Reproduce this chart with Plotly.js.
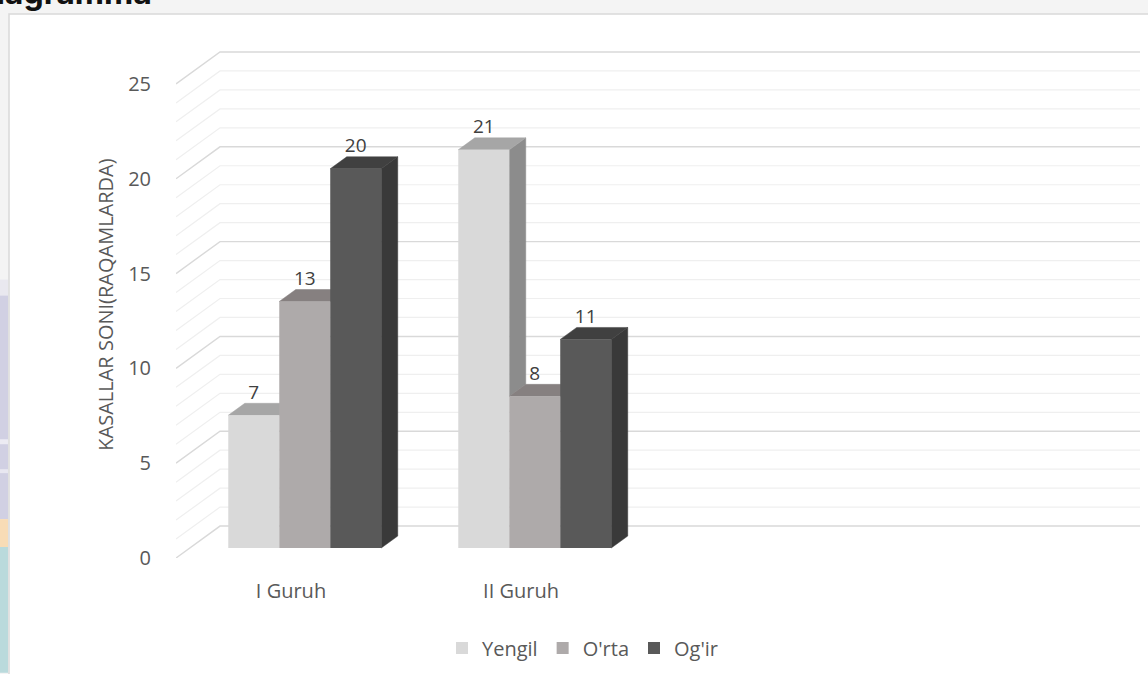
<!DOCTYPE html>
<html>
<head>
<meta charset="utf-8">
<script src="https://cdn.plot.ly/plotly-3.0.1.min.js"></script>
<style>
html,body{margin:0;padding:0;background:#f4f4f4;}
#chart{width:1148px;height:674px;}
</style>
</head>
<body>
<div id="chart"></div>
<script>
// ---- data ----
const categories = ["I Guruh", "II Guruh"];
const seriesNames = ["Yengil", "O'rta", "Og'ir"];
const yengil = [7, 21];
const orta = [13, 8];
const ogir = [20, 11];
const yTickVals = [0, 5, 10, 15, 20, 25];
const gridVals = [0,1,2,3,4,5,6,7,8,9,10,11,12,13,14,15,16,17,18,19,20,21,22,23,24,25];
const axisTitle = "KASALLAR SONI(RAQAMLARDA)";
const pageTitle = "diagramma";

// ---- styling / geometry constants ----
const frontColors = ["#d9d9d9", "#aeaaaa", "#595959"];
const topColors   = ["#a6a6a6", "#868080", "#404040"];
const sideColors  = ["#8c8c8c", "#7a7575", "#393939"];

const W = 1148, H = 674;
const M = {l: 176, r: 8, t: 51, b: 115};
const plotW = W - M.l - M.r, plotH = H - M.t - M.b;
const pxPerCat = 230, pxPerUnit = 19;
const xRange = [-0.5, -0.5 + plotW / pxPerCat];
const yRange = [0, plotH / pxPerUnit];
const DX = 44 / pxPerCat, DY = 32 / pxPerUnit;   // full depth of the 3D box
const frontFrac = 0.3125, depthFrac = 0.375;      // bar position inside the depth
const ddx = depthFrac * DX, ddy = depthFrac * DY;
const x2Range = xRange.map(v => v - frontFrac * DX);
const y2Range = yRange.map(v => v - frontFrac * DY);
const bargap = 0.335;
const groupW = 1 - bargap;
const series = [yengil, orta, ogir];
const barW = groupW / series.length;
const catPos = categories.map((c, i) => i);

const font = "Open Sans, Noto Sans, sans-serif";
const traces = [];

// ---- back wall + side wall gridlines (main axes) ----
function gridTrace(vals, color, width) {
  const xs = [], ys = [];
  vals.forEach(v => {
    xs.push(xRange[0], xRange[0] + DX, xRange[1], null);
    ys.push(v, v + DY, v + DY, null);
  });
  return {type: "scatter", mode: "lines", x: xs, y: ys, xaxis: "x", yaxis: "y",
          line: {color: color, width: width}, hoverinfo: "skip", showlegend: false};
}
traces.push(gridTrace(gridVals.filter(v => v % 5 !== 0), "#efefef", 1.2));
traces.push(gridTrace(gridVals.filter(v => v % 5 === 0), "#d9d9d9", 1.4));

// ---- top and side faces (x2/y2) ----
series.forEach((vals, k) => {
  const tx = [], ty = [], sx = [], sy = [];
  vals.forEach((v, i) => {
    const l = catPos[i] - groupW / 2 + k * barW, r = l + barW;
    tx.push(l, r, r + ddx, l + ddx, l, null);
    ty.push(v, v, v + ddy, v + ddy, v, null);
    const lo = k < series.length - 1 ? series[k + 1][i] : 0;
    if (v > lo) {
      sx.push(r, r, r + ddx, r + ddx, r, null);
      sy.push(lo, v, v + ddy, lo + ddy, lo, null);
    }
  });
  traces.push({type: "scatter", mode: "lines", x: sx, y: sy, xaxis: "x2", yaxis: "y2",
    fill: "toself", fillcolor: sideColors[k], line: {color: sideColors[k], width: 0.5},
    hoverinfo: "skip", showlegend: false});
  traces.push({type: "scatter", mode: "lines", x: tx, y: ty, xaxis: "x2", yaxis: "y2",
    fill: "toself", fillcolor: topColors[k], line: {color: topColors[k], width: 0.5},
    hoverinfo: "skip", showlegend: false});
});

// ---- front faces (bars) and value labels (x3/y3) ----
series.forEach((vals, k) => {
  traces.push({type: "bar", name: seriesNames[k], x: catPos, y: vals, xaxis: "x3", yaxis: "y3",
    marker: {color: frontColors[k], line: {width: 0}}, hoverinfo: "y"});
});
series.forEach((vals, k) => {
  traces.push({type: "scatter", mode: "text", xaxis: "x3", yaxis: "y3",
    x: vals.map((v, i) => catPos[i] - groupW / 2 + (k + 0.5) * barW),
    y: vals.map(v => v + ddy),
    text: vals.map(String), textposition: "top center",
    textfont: {family: font, size: 19, color: "#404040"},
    cliponaxis: false, hoverinfo: "skip", showlegend: false});
});

const hidden = {visible: false, showgrid: false, zeroline: false, fixedrange: true};
const px2paperX = p => (p - M.l) / plotW;
const px2paperY = p => (H - M.b - p) / plotH;

const layout = {
  width: W, height: H,
  margin: M,
  paper_bgcolor: "#f4f4f4",
  plot_bgcolor: "rgba(0,0,0,0)",
  barmode: "group", bargap: bargap, bargroupgap: 0,
  showlegend: true,
  legend: {orientation: "h", x: px2paperX(583), xanchor: "center", y: px2paperY(648), yanchor: "middle",
           font: {family: font, size: 20, color: "#595959"}, bgcolor: "rgba(0,0,0,0)",
           traceorder: "normal", itemwidth: 30},
  xaxis: {range: xRange, tickvals: catPos, ticktext: categories, showgrid: false, zeroline: false,
          showline: false, ticks: "outside", ticklen: 15, tickcolor: "rgba(0,0,0,0)",
          tickfont: {family: font, size: 20, color: "#595959"}, fixedrange: true},
  yaxis: {range: yRange, tickvals: yTickVals, showgrid: false, zeroline: false, showline: false,
          ticks: "outside", ticklen: 20, tickcolor: "rgba(0,0,0,0)",
          tickfont: {family: font, size: 20, color: "#595959"},
          title: {text: axisTitle, font: {family: font, size: 20, color: "#595959"}, standoff: 9},
          fixedrange: true},
  xaxis2: Object.assign({range: x2Range, overlaying: "x"}, hidden),
  yaxis2: Object.assign({range: y2Range, overlaying: "y"}, hidden),
  xaxis3: Object.assign({range: x2Range, overlaying: "x"}, hidden),
  yaxis3: Object.assign({range: y2Range, overlaying: "y"}, hidden),
  shapes: [
    {type: "rect", xref: "paper", yref: "paper", layer: "below",
     x0: px2paperX(9), x1: px2paperX(W + 2), y0: px2paperY(H + 2), y1: px2paperY(14),
     fillcolor: "#ffffff", line: {color: "#d9d9d9", width: 1.5}},
    {type: "rect", xref: "paper", yref: "paper", layer: "below", x0: px2paperX(0), x1: px2paperX(8),
     y0: px2paperY(296), y1: px2paperY(280), fillcolor: "#e9e8ef", line: {width: 0}},
    {type: "rect", xref: "paper", yref: "paper", layer: "below", x0: px2paperX(0), x1: px2paperX(8),
     y0: px2paperY(520), y1: px2paperY(296), fillcolor: "#d1d0e3", line: {width: 0}},
    {type: "rect", xref: "paper", yref: "paper", layer: "below", x0: px2paperX(0), x1: px2paperX(8),
     y0: px2paperY(445), y1: px2paperY(440), fillcolor: "#ecebf3", line: {width: 0}},
    {type: "rect", xref: "paper", yref: "paper", layer: "below", x0: px2paperX(0), x1: px2paperX(8),
     y0: px2paperY(474), y1: px2paperY(470), fillcolor: "#e8e7f1", line: {width: 0}},
    {type: "rect", xref: "paper", yref: "paper", layer: "below", x0: px2paperX(0), x1: px2paperX(8),
     y0: px2paperY(548), y1: px2paperY(520), fillcolor: "#f8dcb6", line: {width: 0}},
    {type: "rect", xref: "paper", yref: "paper", layer: "below", x0: px2paperX(0), x1: px2paperX(8),
     y0: px2paperY(H), y1: px2paperY(548), fillcolor: "#badadc", line: {width: 0}}
  ],
  annotations: [
    {text: "<b>" + pageTitle + "</b>", xref: "paper", yref: "paper", x: px2paperX(154), xanchor: "right",
     y: px2paperY(14), yanchor: "bottom", showarrow: false,
     font: {family: "Inter, Lato, sans-serif", size: 32, color: "#111111"}}
  ]
};

Plotly.newPlot("chart", traces, layout, {staticPlot: true, displayModeBar: false});
</script>
</body>
</html>
